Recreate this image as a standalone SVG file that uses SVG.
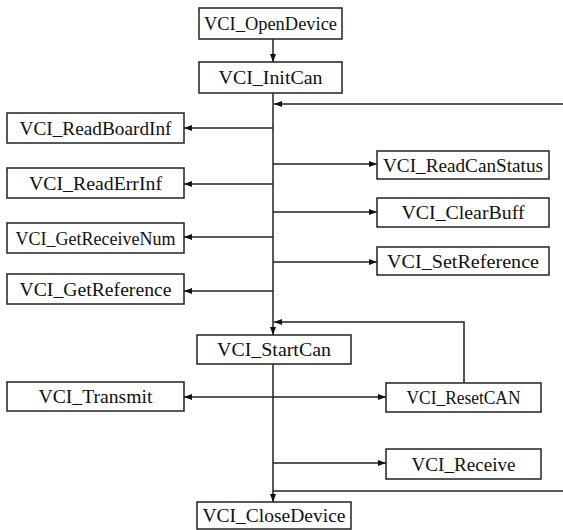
<svg xmlns="http://www.w3.org/2000/svg" width="563" height="530" viewBox="0 0 563 530">
<style>
.box{fill:#fff;stroke:#222;stroke-width:1.5}
.lbl{font-family:"Liberation Serif","DejaVu Serif",serif;font-size:19px;fill:#111;text-anchor:middle}
.ln{fill:none;stroke:#222;stroke-width:1.5}
</style>
<defs>
<marker id="ah" viewBox="0 0 8 6" refX="8" refY="3" markerWidth="8" markerHeight="6" markerUnits="userSpaceOnUse" orient="auto-start-reverse">
<path d="M0,0 L8,3 L0,6 Z" fill="#111"/>
</marker>
</defs>
<g id="connectors">
<line class="ln" x1="273" y1="39" x2="273" y2="62" marker-end="url(#ah)"/>
<line class="ln" x1="273" y1="93" x2="273" y2="335" marker-end="url(#ah)"/>
<line class="ln" x1="563" y1="104" x2="274" y2="104" marker-end="url(#ah)"/>
<line class="ln" x1="273" y1="128" x2="184" y2="128" marker-end="url(#ah)"/>
<line class="ln" x1="273" y1="184" x2="184" y2="184" marker-end="url(#ah)"/>
<line class="ln" x1="273" y1="237" x2="184" y2="237" marker-end="url(#ah)"/>
<line class="ln" x1="273" y1="291" x2="184" y2="291" marker-end="url(#ah)"/>
<line class="ln" x1="273" y1="164" x2="377" y2="164" marker-end="url(#ah)"/>
<line class="ln" x1="273" y1="212" x2="377" y2="212" marker-end="url(#ah)"/>
<line class="ln" x1="273" y1="262" x2="377" y2="262" marker-end="url(#ah)"/>
<polyline class="ln" points="464,383 464,322 274,322" marker-end="url(#ah)"/>
<line class="ln" x1="184" y1="397" x2="386" y2="397" marker-start="url(#ah)" marker-end="url(#ah)"/>
<line class="ln" x1="273" y1="364" x2="273" y2="502" marker-end="url(#ah)"/>
<line class="ln" x1="273" y1="463" x2="386" y2="463" marker-end="url(#ah)"/>
<line class="ln" x1="273" y1="491" x2="563" y2="491"/>
</g>
<g id="n-opendevice"><rect class="box" x="199" y="8" width="143" height="31"/><text class="lbl" x="270.5" y="30" textLength="133" lengthAdjust="spacingAndGlyphs">VCI_OpenDevice</text></g>
<g id="n-initcan"><rect class="box" x="199" y="62" width="143" height="31"/><text class="lbl" x="270.5" y="84" textLength="104" lengthAdjust="spacingAndGlyphs">VCI_InitCan</text></g>
<g id="n-readboardinf"><rect class="box" x="7" y="113" width="177" height="30"/><text class="lbl" x="95.5" y="134.5" textLength="152" lengthAdjust="spacingAndGlyphs">VCI_ReadBoardInf</text></g>
<g id="n-readerrinf"><rect class="box" x="7" y="168" width="177" height="30"/><text class="lbl" x="95.5" y="189.5" textLength="133" lengthAdjust="spacingAndGlyphs">VCI_ReadErrInf</text></g>
<g id="n-getreceivenum"><rect class="box" x="7" y="223" width="177" height="30"/><text class="lbl" x="95.5" y="244.5" textLength="160" lengthAdjust="spacingAndGlyphs">VCI_GetReceiveNum</text></g>
<g id="n-getreference"><rect class="box" x="7" y="274" width="177" height="30"/><text class="lbl" x="95.5" y="295.5" textLength="152" lengthAdjust="spacingAndGlyphs">VCI_GetReference</text></g>
<g id="n-readcanstatus"><rect class="box" x="377" y="151" width="172" height="28"/><text class="lbl" x="463" y="171.5" textLength="160" lengthAdjust="spacingAndGlyphs">VCI_ReadCanStatus</text></g>
<g id="n-clearbuff"><rect class="box" x="377" y="198" width="172" height="29"/><text class="lbl" x="463" y="219" textLength="123" lengthAdjust="spacingAndGlyphs">VCI_ClearBuff</text></g>
<g id="n-setreference"><rect class="box" x="377" y="247" width="172" height="28"/><text class="lbl" x="463" y="267.5" textLength="152" lengthAdjust="spacingAndGlyphs">VCI_SetReference</text></g>
<g id="n-startcan"><rect class="box" x="197" y="335" width="154" height="29"/><text class="lbl" x="274" y="356" textLength="114" lengthAdjust="spacingAndGlyphs">VCI_StartCan</text></g>
<g id="n-transmit"><rect class="box" x="7" y="382" width="177" height="29"/><text class="lbl" x="95.5" y="403" textLength="114" lengthAdjust="spacingAndGlyphs">VCI_Transmit</text></g>
<g id="n-resetcan"><rect class="box" x="386" y="383" width="155" height="29"/><text class="lbl" x="463.5" y="404" textLength="114" lengthAdjust="spacingAndGlyphs">VCI_ResetCAN</text></g>
<g id="n-receive"><rect class="box" x="386" y="449" width="155" height="30"/><text class="lbl" x="463.5" y="470.5" textLength="104" lengthAdjust="spacingAndGlyphs">VCI_Receive</text></g>
<g id="n-closedevice"><rect class="box" x="197" y="502" width="154" height="27"/><text class="lbl" x="274" y="522" textLength="143" lengthAdjust="spacingAndGlyphs">VCI_CloseDevice</text></g>
</svg>
